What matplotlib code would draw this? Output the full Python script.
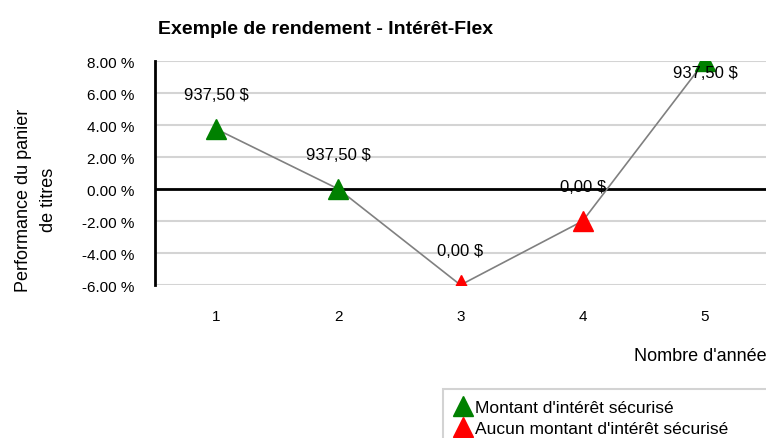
import matplotlib
matplotlib.use("Agg")
import matplotlib.pyplot as plt
from matplotlib.lines import Line2D
from matplotlib.ticker import FuncFormatter

# data
years = [1, 2, 3, 4, 5]
perf = [3.75, 0.0, -6.0, -2.0, 8.0]
secured = [True, True, False, False, True]
labels = ["937,50 $", "937,50 $", "0,00 $", "0,00 $", "937,50 $"]
yticks = [-6, -4, -2, 0, 2, 4, 6, 8]

plt.rcParams['font.family'] = ['Liberation Sans', 'DejaVu Sans']

fig = plt.figure(figsize=(7.66, 4.39), dpi=100)
ax = fig.add_axes([155 / 766, 1 - 286 / 439, 1 - 155 / 766, 224 / 439])

ax.set_xlim(0.5, 5.5)
ax.set_ylim(-6, 8)
ax.set_yticks(yticks)
ax.yaxis.set_major_formatter(FuncFormatter(lambda v, p: f"{v:.2f} %"))
ax.set_xticks(years)
ax.tick_params(length=0, labelsize=11)
ax.tick_params(axis='x', pad=17)
ax.tick_params(axis='y', pad=15)
ax.grid(axis='y', color='#d4d4d4', linewidth=1.5)
ax.set_axisbelow(True)
for s in ['top', 'right', 'bottom']:
    ax.spines[s].set_visible(False)
ax.spines['left'].set_linewidth(2)
ax.axhline(0, color='black', linewidth=2, zorder=2)

ax.plot(years, perf, color='#808080', linewidth=1.2, zorder=3)
for x, y, ok in zip(years, perf, secured):
    ax.plot(x, y, marker='^', markersize=15, color='#008000' if ok else '#ff0000',
            linestyle='none', zorder=4)

# data labels, the top one is kept inside the plot area
ymax = ax.get_ylim()[1]
for x, y, t in zip(years, perf, labels):
    off = -8 if y >= ymax - 0.5 else 25
    ax.annotate(t, (x, y), xytext=(0, off), textcoords='offset points',
                ha='center', va='center', fontsize=12, zorder=5)

fig.text(326 / 766, 1 - 30 / 439, "Exemple de rendement - Intérêt-Flex",
         ha='center', va='center', fontsize=14, fontweight='bold')
fig.text(36 / 766, 1 - 200 / 439, "Performance du panier\nde titres", rotation=90,
         ha='center', va='center', fontsize=13, linespacing=1.6)
fig.text(700 / 766, 1 - 357 / 439, "Nombre d'année", ha='center', va='center', fontsize=13)

handles = [Line2D([], [], marker='^', color='#008000', linestyle='none', markersize=14),
           Line2D([], [], marker='^', color='#ff0000', linestyle='none', markersize=14)]
leg = fig.legend(handles, ["Montant d'intérêt sécurisé", "Aucun montant d'intérêt sécurisé"],
                 loc='upper left', bbox_to_anchor=(443 / 766, 0, 1 - 443 / 766 + 0.01, 1 - 390 / 439),
                 mode='expand', fontsize=12.5, frameon=True, fancybox=False, edgecolor='#c8c8c8',
                 handlelength=1.0, handletextpad=0.2, borderpad=0.65, labelspacing=0.3,
                 borderaxespad=0)
leg.get_frame().set_linewidth(1.5)

fig.savefig("out.png", dpi=100)
